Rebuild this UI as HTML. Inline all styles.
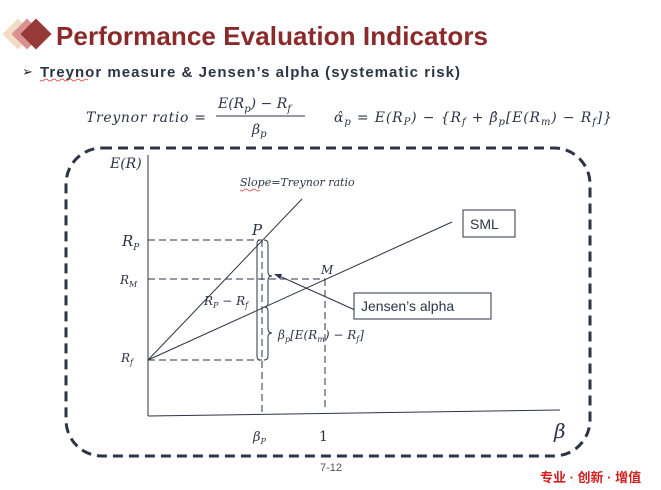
<!DOCTYPE html>
<html><head><meta charset="utf-8"><style>
body{margin:0;width:661px;height:490px;background:#fff;overflow:hidden;position:relative;font-family:"Liberation Sans",sans-serif}
.t{position:absolute;white-space:nowrap}
</style></head><body>
<svg width="661" height="490" style="position:absolute;left:0;top:0">
<g transform="translate(18,34) rotate(45)"><rect x="-11" y="-11" width="22" height="22" fill="#f3dcc4"/></g>
<g transform="translate(27,34) rotate(45)"><rect x="-11" y="-11" width="22" height="22" fill="#d99290"/></g>
<g transform="translate(36,34) rotate(45)"><rect x="-11" y="-11" width="22" height="22" fill="#963a38"/></g>
<text x="56" y="45" font-family="Liberation Sans" font-weight="bold" font-size="26" fill="#8b2a2a" textLength="432">Performance Evaluation Indicators</text>
<text x="22" y="76" font-size="13" fill="#222">➢</text>
<text x="40" y="77" font-family="Liberation Sans" font-weight="bold" font-size="15" fill="#2b3545" textLength="420">Treynor measure &amp; Jensen’s alpha (systematic risk)</text>
<path d="M40 80 q2 2 4 0 t4 0 t4 0 t4 0 t4 0 t4 0 t4 0 t4 0 t4 0 t4 0 t4 0 t4 0" stroke="#d33" fill="none" stroke-width="0.8"/>
<g font-family="DejaVu Serif" font-style="italic" font-size="14" fill="#2b3545">
<text x="86" y="122" textLength="120">Treynor ratio =</text>
<text x="218" y="108">E(R<tspan font-size="10" dy="4">p</tspan><tspan dy="-4">) − R</tspan><tspan font-size="10" dy="4">f</tspan></text>
<line x1="216" y1="116" x2="305" y2="116" stroke="#2b3545"/>
<text x="252" y="134">β<tspan font-size="10" dy="3">p</tspan></text>
<text x="334" y="122" textLength="278">α̂<tspan font-size="10" dy="3">p</tspan><tspan dy="-3"> = E(R</tspan><tspan font-size="10" dy="3">P</tspan><tspan dy="-3">) − {R</tspan><tspan font-size="10" dy="3">f</tspan><tspan dy="-3"> + β̂</tspan><tspan font-size="10" dy="3">p</tspan><tspan dy="-3">[E(R</tspan><tspan font-size="10" dy="3">m</tspan><tspan dy="-3">) − R</tspan><tspan font-size="10" dy="3">f</tspan><tspan dy="-3">]}</tspan></text>
</g>
<rect x="66" y="148" width="524" height="308" rx="36" fill="none" stroke="#2b3545" stroke-width="3" stroke-dasharray="10,6"/>
<g stroke="#2b3545" stroke-width="1" fill="none">
<line x1="148" y1="155" x2="148" y2="416"/>
<line x1="148" y1="416" x2="560" y2="410"/>
<line x1="148" y1="360" x2="302" y2="199"/>
<line x1="148" y1="360" x2="452" y2="222"/>
<g stroke-dasharray="7,4">
<line x1="148" y1="240" x2="262" y2="240"/>
<line x1="148" y1="279" x2="325" y2="279"/>
<line x1="148" y1="360" x2="262" y2="360"/>
<line x1="262" y1="240" x2="262" y2="412"/>
<line x1="325" y1="279" x2="325" y2="408"/>
</g>
<path d="M264 240 q4 0 4 4 v28 q0 4 4 4 q-4 0 -4 4 v23 q0 4 -4 4"/>
<path d="M264 307 q4 0 4 4 v18 q0 4 4 4 q-4 0 -4 4 v19 q0 4 -4 4"/>
<path d="M260 240 q-3 0 -3 4 v112 q0 4 3 4"/>
<line x1="355" y1="310" x2="277" y2="275"/>
<rect x="463" y="210" width="52" height="27" fill="#fff"/>
<rect x="354" y="293" width="137" height="26" fill="#fff"/>
</g>
<polygon points="274,274 282,274 280,279" fill="#2b3545"/>
<g font-family="DejaVu Serif" font-style="italic" fill="#2b3545">
<text x="110" y="168" font-size="14">E(R)</text>
<text x="240" y="186" font-size="11">Slope=Treynor ratio</text>
<text x="122" y="246" font-size="15">R<tspan font-size="9" dy="4">P</tspan></text>
<text x="120" y="284" font-size="12">R<tspan font-size="8" dy="3">M</tspan></text>
<text x="121" y="362" font-size="12">R<tspan font-size="8" dy="3">f</tspan></text>
<text x="252" y="235" font-size="15">P</text>
<text x="321" y="274" font-size="12">M</text>
<text x="204" y="305" font-size="12">R<tspan font-size="8" dy="3">P</tspan><tspan dy="-3"> − R</tspan><tspan font-size="8" dy="3">f</tspan></text>
<text x="278" y="339" font-size="12">β<tspan font-size="8" dy="3">p</tspan><tspan dy="-3">[E(R</tspan><tspan font-size="8" dy="3">m</tspan><tspan dy="-3">) − R</tspan><tspan font-size="8" dy="3">f</tspan><tspan dy="-3">]</tspan></text>
<text x="253" y="441" font-size="13">β<tspan font-size="8" dy="3">P</tspan></text>
<text x="554" y="438" font-size="20">β</text>
</g>
<text x="319" y="441" font-family="DejaVu Serif" font-size="14" fill="#2b3545">1</text>
<text x="470" y="229" font-family="Liberation Sans" font-size="14" fill="#2b3545">SML</text>
<text x="361" y="311" font-family="Liberation Sans" font-size="14" fill="#2b3545">Jensen’s alpha</text>
<path d="M240 190 q2 2 4 0 t4 0 t4 0 t4 0 t4 0" stroke="#d33" fill="none" stroke-width="0.6"/>
<text x="320" y="471" font-size="11" fill="#555">7-12</text>
</svg>
<div class="t" style="left:540px;top:467px;font-size:13px;color:#d02020;font-family:'Liberation Sans','Noto Sans CJK SC',sans-serif;font-weight:bold">专业 · 创新 · 增值</div>
</body></html>
